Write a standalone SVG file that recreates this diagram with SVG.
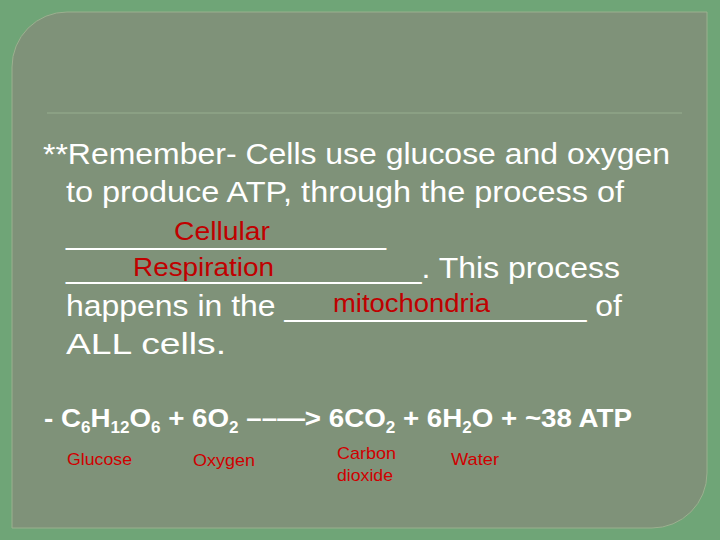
<svg xmlns="http://www.w3.org/2000/svg" width="720" height="540" viewBox="0 0 720 540">
<style>
.t{font-family:"Liberation Sans",Arial,sans-serif;font-size:30px;fill:#fff}
.r{font-family:"Liberation Sans",Arial,sans-serif;font-size:25px;fill:#c00000}
.e{font-family:"Liberation Sans",Arial,sans-serif;font-size:26px;font-weight:bold;fill:#fff}
.l{font-family:"Liberation Sans",Arial,sans-serif;font-size:17px;fill:#d00000}
</style>
<rect width="720" height="540" fill="#6fa577"/>
<path d="M67 12 H707 V473 A55 55 0 0 1 652 528 H12 V67 A55 55 0 0 1 67 12 Z" fill="#7f9279" stroke="#9bb08f" stroke-width="1"/>
<line x1="47" y1="113" x2="682" y2="113" stroke="#8fa488" stroke-width="1.5"/>
<g id="text">
<text class="t" x="43" y="164" textLength="627" lengthAdjust="spacingAndGlyphs">**Remember- Cells use glucose and oxygen</text>
<text class="t" x="66" y="202" textLength="558" lengthAdjust="spacingAndGlyphs">to produce ATP, through the process of</text>
<text class="t" x="66" y="244" textLength="320" lengthAdjust="spacingAndGlyphs">__________________</text>
<text class="t" x="66" y="278" textLength="554" lengthAdjust="spacingAndGlyphs">____________________. This process</text>
<text class="t" x="66" y="316" textLength="556" lengthAdjust="spacingAndGlyphs">happens in the _________________ of</text>
<text class="t" x="66" y="354" textLength="160" lengthAdjust="spacingAndGlyphs">ALL cells.</text>
<text class="r" x="174" y="240" textLength="96" lengthAdjust="spacingAndGlyphs">Cellular</text>
<text class="r" x="133" y="276" textLength="141" lengthAdjust="spacingAndGlyphs">Respiration</text>
<text class="r" x="333" y="312" textLength="157" lengthAdjust="spacingAndGlyphs">mitochondria</text>
</g>
<g id="equation">
<text class="e" x="44" y="427" textLength="588" lengthAdjust="spacingAndGlyphs">- C<tspan font-size="16" dy="6">6</tspan><tspan dy="-6">H</tspan><tspan font-size="16" dy="6">12</tspan><tspan dy="-6">O</tspan><tspan font-size="16" dy="6">6</tspan><tspan dy="-6"> + 6O</tspan><tspan font-size="16" dy="6">2</tspan><tspan dy="-6"> ––—&gt; 6CO</tspan><tspan font-size="16" dy="6">2</tspan><tspan dy="-6"> + 6H</tspan><tspan font-size="16" dy="6">2</tspan><tspan dy="-6">O + ~38 ATP</tspan></text>
<text class="l" x="67" y="465" textLength="65" lengthAdjust="spacingAndGlyphs">Glucose</text>
<text class="l" x="193" y="466" textLength="62" lengthAdjust="spacingAndGlyphs">Oxygen</text>
<text class="l" x="337" y="459" textLength="59" lengthAdjust="spacingAndGlyphs">Carbon</text>
<text class="l" x="337" y="481" textLength="56" lengthAdjust="spacingAndGlyphs">dioxide</text>
<text class="l" x="451" y="465" textLength="48" lengthAdjust="spacingAndGlyphs">Water</text>
</g>
</svg>
